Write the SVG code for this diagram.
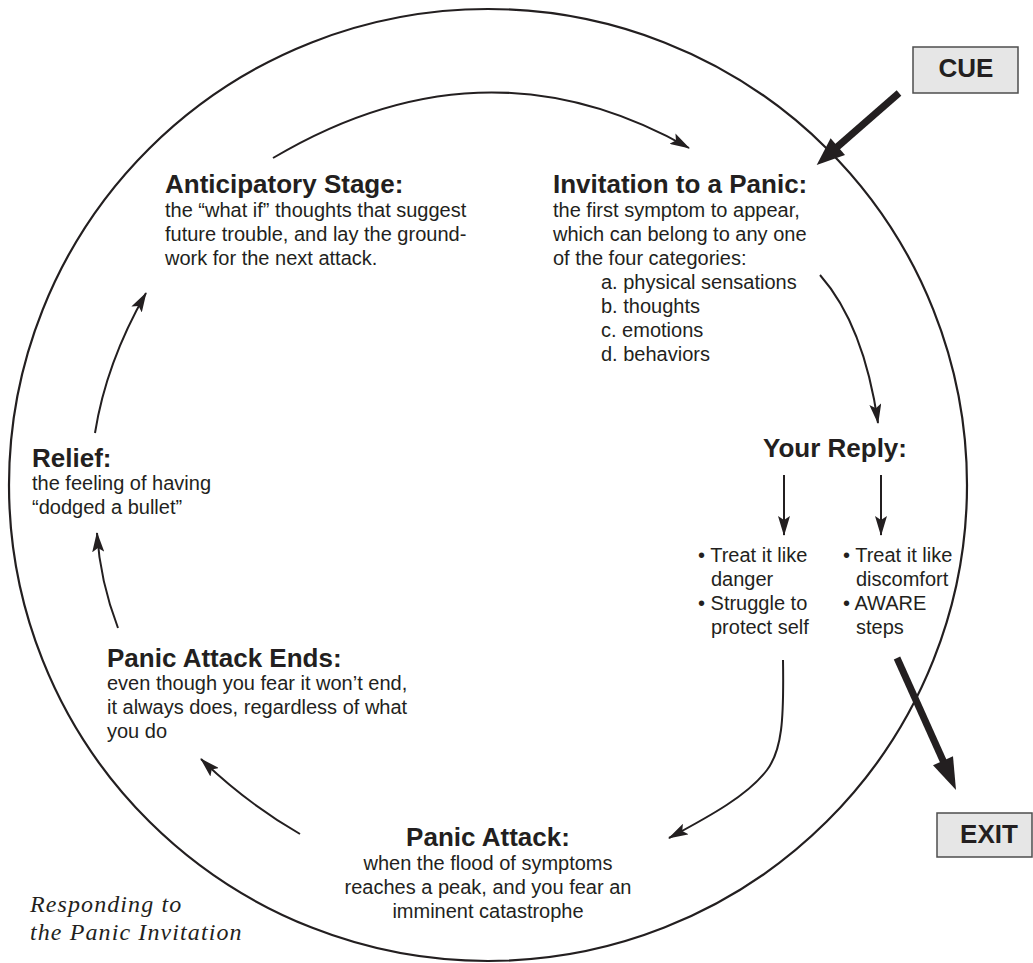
<svg xmlns="http://www.w3.org/2000/svg" width="1033" height="963" viewBox="0 0 1033 963">
<style>
.t{font-family:"Liberation Sans",Arial,sans-serif;fill:#231f20}
.h{font-size:26px;font-weight:bold}
.b{font-size:20px}
.c{text-anchor:middle}
.cap{font-family:"Liberation Serif","Times New Roman",serif;font-style:italic;font-size:24px;letter-spacing:1.1px;fill:#231f20}
.ln{fill:none;stroke:#231f20;stroke-width:2}
.thick{fill:none;stroke:#231f20;stroke-width:7}
.box{fill:#e6e6e6;stroke:#4d4d4d;stroke-width:1.5}
</style>
<defs>
<marker id="ah" viewBox="0 0 20 12" refX="19" refY="6" markerWidth="20" markerHeight="12" markerUnits="userSpaceOnUse" orient="auto">
<path d="M0,0 L20,6 L0,12 L4,6 z" fill="#231f20"/>
</marker>
</defs>
<rect width="1033" height="963" fill="#ffffff"/>
<g id="cycle">
<ellipse cx="488" cy="485" rx="479" ry="476" fill="none" stroke="#231f20" stroke-width="2.2"/>
</g>
<g id="connectors">
<path class="ln" d="M273,158 Q485,32 689,148" marker-end="url(#ah)"/>
<path class="ln" d="M820,275 Q864,325 878,423" marker-end="url(#ah)"/>
<path class="ln" d="M784,475 L784,535" marker-end="url(#ah)"/>
<path class="ln" d="M881,475 L881,535" marker-end="url(#ah)"/>
<path class="ln" d="M783,660 C784,720 782,750 767,770 C748,795 712,815 669,838" marker-end="url(#ah)"/>
<path class="ln" d="M300,834 Q245,802 201,759" marker-end="url(#ah)"/>
<path class="ln" d="M118,628 Q100,581 97,533" marker-end="url(#ah)"/>
<path class="ln" d="M95,433 Q106,363 146,293" marker-end="url(#ah)"/>
<line class="thick" x1="899" y1="93" x2="836" y2="148"/>
<polygon points="816.7,165 830.6,138.3 845,154.9" fill="#231f20"/>
<line class="thick" x1="897" y1="658" x2="945" y2="765"/>
<polygon points="956,790 933,765.3 953,756.3" fill="#231f20"/>
</g>
<g id="cue">
<rect class="box" x="913" y="47" width="105" height="46"/>
<text class="t h c" x="966" y="77">CUE</text>
</g>
<g id="exit">
<rect class="box" x="937" y="813" width="95" height="44"/>
<text class="t h c" x="989" y="843">EXIT</text>
</g>
<g id="anticipatory">
<text class="t h" x="165" y="193">Anticipatory Stage:</text>
<text class="t b" x="165" y="217">the “what if” thoughts that suggest</text>
<text class="t b" x="165" y="241">future trouble, and lay the ground-</text>
<text class="t b" x="165" y="265">work for the next attack.</text>
</g>
<g id="invitation">
<text class="t h" x="553" y="193">Invitation to a Panic:</text>
<text class="t b" x="553" y="217">the first symptom to appear,</text>
<text class="t b" x="553" y="241">which can belong to any one</text>
<text class="t b" x="553" y="265">of the four categories:</text>
<text class="t b" x="601" y="289">a. physical sensations</text>
<text class="t b" x="601" y="313">b. thoughts</text>
<text class="t b" x="601" y="337">c. emotions</text>
<text class="t b" x="601" y="361">d. behaviors</text>
</g>
<g id="your-reply">
<text class="t h c" x="835" y="457">Your Reply:</text>
</g>
<g id="reply-danger">
<text class="t b" x="698" y="562">• Treat it like</text>
<text class="t b" x="711" y="586">danger</text>
<text class="t b" x="698" y="610">• Struggle to</text>
<text class="t b" x="711" y="634">protect self</text>
</g>
<g id="reply-discomfort">
<text class="t b" x="843" y="562">• Treat it like</text>
<text class="t b" x="856" y="586">discomfort</text>
<text class="t b" x="843" y="610">• AWARE</text>
<text class="t b" x="856" y="634">steps</text>
</g>
<g id="panic-attack">
<text class="t h c" x="488" y="846">Panic Attack:</text>
<text class="t b c" x="488" y="870">when the flood of symptoms</text>
<text class="t b c" x="488" y="894">reaches a peak, and you fear an</text>
<text class="t b c" x="488" y="918">imminent catastrophe</text>
</g>
<g id="attack-ends">
<text class="t h" x="107" y="667">Panic Attack Ends:</text>
<text class="t b" x="107" y="690">even though you fear it won’t end,</text>
<text class="t b" x="107" y="714">it always does, regardless of what</text>
<text class="t b" x="107" y="738">you do</text>
</g>
<g id="relief">
<text class="t h" x="32" y="467">Relief:</text>
<text class="t b" x="32" y="490">the feeling of having</text>
<text class="t b" x="32" y="514">“dodged a bullet”</text>
</g>
<g id="caption">
<text class="cap" x="30" y="912">Responding to</text>
<text class="cap" x="30" y="940">the Panic Invitation</text>
</g>
</svg>
